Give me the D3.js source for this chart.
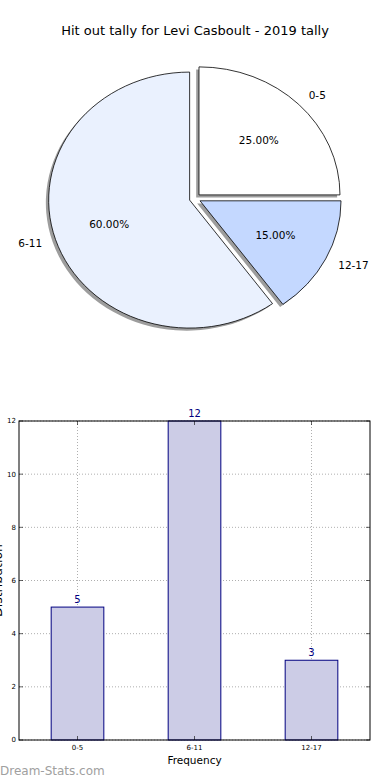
<!DOCTYPE html>
<html>
<head>
<meta charset="utf-8">
<script src="https://cdn.jsdelivr.net/npm/d3@7"></script>
<style>
  html, body { margin: 0; padding: 0; background: #fff; }
  svg { display: block; font-family: "DejaVu Sans", sans-serif; }
</style>
</head>
<body>
<svg id="chart" width="390" height="780"></svg>
<script>
// ---- data ----
const title = "Hit out tally for Levi Casboult - 2019 tally";
const categories = ["0-5", "6-11", "12-17"];
const counts = [5, 12, 3];
const pieColors = ["#ffffff", "#eaf1fe", "#c4d8ff"];
const yTicks = [0, 2, 4, 6, 8, 10, 12];
const xLabel = "Frequency";
const yLabel = "Distribution";
const watermark = "Dream-Stats.com";

const svg = d3.select("#chart");

// ---- title ----
svg.append("text")
  .attr("x", 195).attr("y", 35)
  .attr("text-anchor", "middle")
  .attr("font-size", 13)
  .attr("fill", "#000")
  .text(title);

// ---- pie (elliptical, matplotlib-style, startangle 0, counterclockwise) ----
const cx = 195, cy = 198.5, rx = 141, ry = 128;
const explode = 0.04;
const total = d3.sum(counts);
const sx = d3.scaleLinear().domain([-1, 1]).range([cx - rx, cx + rx]);
const sy = d3.scaleLinear().domain([-1, 1]).range([cy + ry, cy - ry]);

let cum = 0;
const slices = counts.map((v, i) => {
  const t1 = cum / total * 2 * Math.PI;
  cum += v;
  const t2 = cum / total * 2 * Math.PI;
  const tm = (t1 + t2) / 2;
  return {
    i, v,
    startAngle: Math.PI / 2 - t2,
    endAngle: Math.PI / 2 - t1,
    dx: explode * Math.cos(tm),
    dy: explode * Math.sin(tm),
    tm
  };
});

const arc = d3.arc().innerRadius(0).outerRadius(1);
const pieG = svg.append("g");

// shadows
slices.forEach(s => {
  const ox = -0.02, oy = -0.02;
  pieG.append("g")
    .attr("transform", `translate(${sx(s.dx + ox)},${sy(s.dy + oy)}) scale(${rx},${ry})`)
    .append("path")
    .attr("d", arc(s))
    .attr("fill", "#8c8c8c")
    .attr("opacity", 0.85);
});
// wedges
slices.forEach(s => {
  pieG.append("g")
    .attr("transform", `translate(${sx(s.dx)},${sy(s.dy)}) scale(${rx},${ry})`)
    .append("path")
    .attr("d", arc(s))
    .attr("fill", pieColors[s.i])
    .attr("stroke", "#000")
    .attr("stroke-width", 0.8)
    .attr("vector-effect", "non-scaling-stroke");
});
// labels
slices.forEach(s => {
  const c = Math.cos(s.tm), sn = Math.sin(s.tm);
  const lx = s.dx + 1.1 * c, ly = s.dy + 1.1 * sn;
  svg.append("text")
    .attr("x", sx(lx)).attr("y", sy(ly))
    .attr("dy", "0.36em")
    .attr("text-anchor", lx > 0 ? "start" : "end")
    .attr("font-size", 10.5)
    .text(categories[s.i]);
  const px = s.dx + 0.6 * c, py = s.dy + 0.6 * sn;
  svg.append("text")
    .attr("x", sx(px)).attr("y", sy(py))
    .attr("dy", "0.36em")
    .attr("text-anchor", "middle")
    .attr("font-size", 10.5)
    .text((s.v / total * 100).toFixed(2) + "%");
});

// ---- bar chart ----
const L = 19, R = 370, T = 421, B = 740;
const x = d3.scaleLinear().domain([-0.5, 2.5]).range([L, R]);
const y = d3.scaleLinear().domain([0, 12]).range([B, T]);
const barW = 0.45;
const bar = svg.append("g");

// grid
bar.selectAll(".gy").data(yTicks).enter().append("line")
  .attr("x1", L).attr("x2", R)
  .attr("y1", d => y(d)).attr("y2", d => y(d))
  .attr("stroke", "#9a9a9a").attr("stroke-width", 0.8)
  .attr("stroke-dasharray", "1,2");
bar.selectAll(".gx").data(categories).enter().append("line")
  .attr("x1", (d, i) => x(i)).attr("x2", (d, i) => x(i))
  .attr("y1", T).attr("y2", B)
  .attr("stroke", "#9a9a9a").attr("stroke-width", 0.8)
  .attr("stroke-dasharray", "1,2");

// bars
bar.selectAll(".b").data(counts).enter().append("rect")
  .attr("x", (d, i) => x(i - barW / 2))
  .attr("width", x(barW) - x(0))
  .attr("y", d => y(d))
  .attr("height", d => B - y(d))
  .attr("fill", "#ccccE6")
  .attr("stroke", "#000080")
  .attr("stroke-width", 1);

// value labels
bar.selectAll(".v").data(counts).enter().append("text")
  .attr("x", (d, i) => x(i))
  .attr("y", d => y(d) - 4)
  .attr("text-anchor", "middle")
  .attr("font-size", 10)
  .attr("fill", "#000080")
  .text(d => d);

// frame
bar.append("rect")
  .attr("x", L).attr("y", T).attr("width", R - L).attr("height", B - T)
  .attr("fill", "none").attr("stroke", "#000").attr("stroke-width", 1);

// ticks (inward, both sides)
yTicks.forEach(t => {
  bar.append("line").attr("x1", L).attr("x2", L + 4).attr("y1", y(t)).attr("y2", y(t))
    .attr("stroke", "#000").attr("stroke-width", 0.6);
  bar.append("line").attr("x1", R - 4).attr("x2", R).attr("y1", y(t)).attr("y2", y(t))
    .attr("stroke", "#000").attr("stroke-width", 0.6);
  bar.append("text").attr("x", L - 3).attr("y", y(t)).attr("dy", "0.35em")
    .attr("text-anchor", "end").attr("font-size", 7).text(t);
});
categories.forEach((c, i) => {
  bar.append("line").attr("x1", x(i)).attr("x2", x(i)).attr("y1", B - 4).attr("y2", B)
    .attr("stroke", "#000").attr("stroke-width", 0.6);
  bar.append("line").attr("x1", x(i)).attr("x2", x(i)).attr("y1", T).attr("y2", T + 4)
    .attr("stroke", "#000").attr("stroke-width", 0.6);
  bar.append("text").attr("x", x(i)).attr("y", B + 10)
    .attr("text-anchor", "middle").attr("font-size", 7).text(c);
});

// axis labels
svg.append("text").attr("x", (L + R) / 2).attr("y", 764)
  .attr("text-anchor", "middle").attr("font-size", 10.5).text(xLabel);
svg.append("text")
  .attr("transform", `translate(2,${(T + B) / 2}) rotate(-90)`)
  .attr("text-anchor", "middle").attr("font-size", 12.5).text(yLabel);

// watermark
svg.append("text").attr("x", 0).attr("y", 775)
  .attr("font-size", 12).attr("fill", "#a0a0a0")
  .text(watermark);
</script>
</body>
</html>
